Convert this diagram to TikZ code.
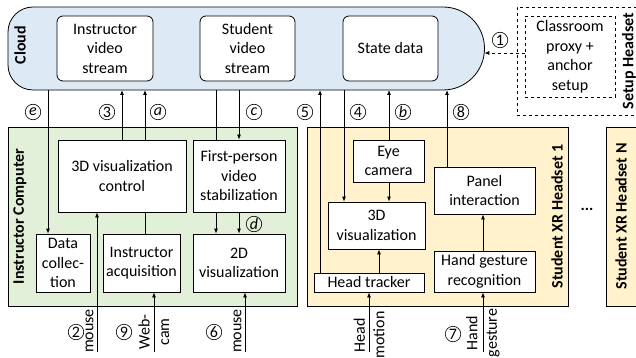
\documentclass[tikz,border=0pt]{standalone}
\usepackage{fontspec}
\setmainfont{Carlito}
\usetikzlibrary{arrows.meta}
\newcommand{\dfont}{\fontsize{16}{19.5}\selectfont}

\begin{document}
\begin{tikzpicture}[x=1pt,y=-1pt,line width=0.8pt,
        box/.style={draw, fill=white, align=center, inner sep=1pt, font=\dfont},
        rbox/.style={box, rounded corners=6},
        group/.style={draw, inner sep=0pt},
        num/.style={circle, draw, inner sep=0pt, minimum size=15.5, line width=0.6pt, font=\fontsize{16}{16}\selectfont},
        side/.style={rotate=90, font=\dfont\bfseries},
        inlbl/.style={rotate=90, align=center, inner sep=1pt, font=\dfont},
        arr/.style={-{Latex[length=5pt,width=4pt]}}]
        \useasboundingbox (0,0) rectangle (636,358);
        % cloud
        \draw[fill={rgb,255:red,221;green,234;blue,246}] (33,7) -- (443,7)
            arc[start angle=-90,end angle=90,radius=41.5] -- (33,90)
            arc[start angle=90,end angle=180,radius=25] -- (8,32)
            arc[start angle=180,end angle=270,radius=25] -- cycle;
        \node[side] (cloudlbl) at (20,45) {Cloud};
        \node[rbox, minimum width=96, minimum height=65] (ivs) at (105,48.5) {Instructor\\video\\stream};
        \node[rbox, minimum width=95, minimum height=65] (svs) at (247.5,48.5) {Student\\video\\stream};
        \node[rbox, minimum width=95, minimum height=65] (sd) at (390.5,48.5) {State data};
        \coordinate (cE) at (484.3,53);
        % setup headset
        \node[group, dashed, minimum width=123, minimum height=108] (setup) at (578.5,61) {};
        \node[box, dashed, minimum width=90, minimum height=81] (proxy) at (570,56.5) {Classroom\\proxy +\\anchor\\setup};
        \node[side] (setuplbl) at (629,61) {Setup Headset};
        \draw[arr, dashed] (proxy.west |- cE) -- (cE);
        \node[num] (n1) at (500,40) {1};
        % instructor computer
        \node[group, fill={rgb,255:red,226;green,240;blue,217}, minimum width=289, minimum height=179] (ic) at (152.5,216.5) {};
        \node[side] (iclbl) at (20,216.5) {Instructor Computer};
        \node[box, minimum width=128, minimum height=72] (vctl) at (122,176) {3D visualization\\control};
        \node[box, minimum width=92, minimum height=72] (fpv) at (239,176) {First-person\\video\\stabilization};
        \node[box, minimum width=54, minimum height=58] (dcol) at (63,263) {Data\\collec-\\tion};
        \node[box, minimum width=77, minimum height=58] (iacq) at (141.5,263) {Instructor\\acquisition};
        \node[box, minimum width=92, minimum height=58] (vis2d) at (239,263) {2D\\visualization};
        % student headset 1
        \node[group, fill={rgb,255:red,255;green,242;blue,204}, minimum width=261, minimum height=179] (sh1) at (437.5,216.5) {};
        \node[side] (sh1lbl) at (557,216.5) {Student XR Headset 1};
        \node[box, minimum width=71, minimum height=42] (eye) at (388.5,161) {Eye\\camera};
        \node[box, minimum width=101, minimum height=47] (panel) at (484.5,190.5) {Panel\\interaction};
        \node[box, minimum width=97, minimum height=47] (vis3d) at (376.5,225.5) {3D\\visualization};
        \node[box, minimum width=110, minimum height=19] (htrk) at (369,282.5) {Head tracker};
        \node[box, minimum width=101, minimum height=41] (hand) at (484.5,271.5) {Hand gesture\\recognition};
        % student headset N
        \node[inner sep=0pt] (dots) at (587,209) {\dfont\bfseries ...};
        \node[group, fill={rgb,255:red,255;green,242;blue,204}, minimum width=40, minimum height=179] (shn) at (626,216.5) {};
        \node[side] (shnlbl) at (621,216.5) {Student XR Headset N};
        % link columns at the cloud
        \coordinate (ce) at (48,90);
        \coordinate (c3) at (122,90);
        \coordinate (ca) at (145,90);
        \coordinate (cv) at (216,90);
        \coordinate (cc) at (239,90);
        \coordinate (c5) at (320,90);
        \coordinate (c4) at (344,90);
        \coordinate (cb) at (389,90);
        \coordinate (c8) at (447,90);
        % inputs from below
        \coordinate (in2) at (97,352);
        \coordinate (in9) at (154,352);
        \coordinate (in6) at (245,352);
        \coordinate (inh) at (369,352);
        \coordinate (in7) at (483,352);
        % instructor links
        \draw[arr] (ce) -- (dcol.north -| ce);
        \draw[arr] (vctl.north -| c3) -- (c3);
        \draw[arr] (vctl.north -| ca) -- (ca);
        \draw (cv) -- (fpv.north -| cv);
        \draw[arr] (cc) -- (fpv.north -| cc);
        \draw[arr] (fpv.south -| cv) -- (vis2d.north -| cv);
        \draw[arr] (fpv.south -| cc) -- (vis2d.north -| cc);
        \draw (vctl.south -| ca) -- (iacq.north -| ca);
        \draw[arr] (in2) -- (vctl.south -| in2);
        \draw[arr] (in9) -- (iacq.south -| in9);
        \draw[arr] (in6) -- (vis2d.south -| in6);
        \node[num] (ne) at (33,112) {\textit{e}};
        \node[num] (n3) at (107,112) {3};
        \node[num] (na) at (158,112) {\textit{a}};
        \node[num] (nc) at (254,112) {\textit{c}};
        \node[num] (nd) at (254,224) {\textit{d}};
        \node[num] (n2) at (76,332) {2};
        \node[num] (n9) at (124,332) {9};
        \node[num] (n6) at (214,332) {6};
        \node[inlbl] (m2) at (89.5,331) {mouse};
        \node[inlbl] (wc) at (154,332) {Web-\\cam};
        \node[inlbl] (m6) at (237.5,331) {mouse};
        % student links
        \draw[arr] (htrk.north -| c5) -- (c5);
        \draw[arr] (c4) -- (vis3d.north -| c4);
        \draw[arr] (eye.north -| cb) -- (cb);
        \draw[arr] (eye.south -| cb) -- (vis3d.north -| cb);
        \draw[arr] (panel.north -| c8) -- (c8);
        \draw[arr] (htrk.north -| 379,0) -- (vis3d.south -| 379,0);
        \draw[arr] (hand.north -| in7) -- (panel.south -| in7);
        \draw[arr] (inh) -- (htrk.south -| inh);
        \draw[arr] (in7) -- (hand.south -| in7);
        \node[num] (n5) at (305,112) {5};
        \node[num] (n4) at (358,112) {4};
        \node[num] (nb) at (403,112) {\textit{b}};
        \node[num] (n8) at (461,112) {8};
        \node[num] (n7) at (453,334) {7};
        \node[inlbl] (hm) at (369,335) {Head\\motion};
        \node[inlbl] (hg) at (483,333) {Hand\\gesture};
\end{tikzpicture}
\end{document}
